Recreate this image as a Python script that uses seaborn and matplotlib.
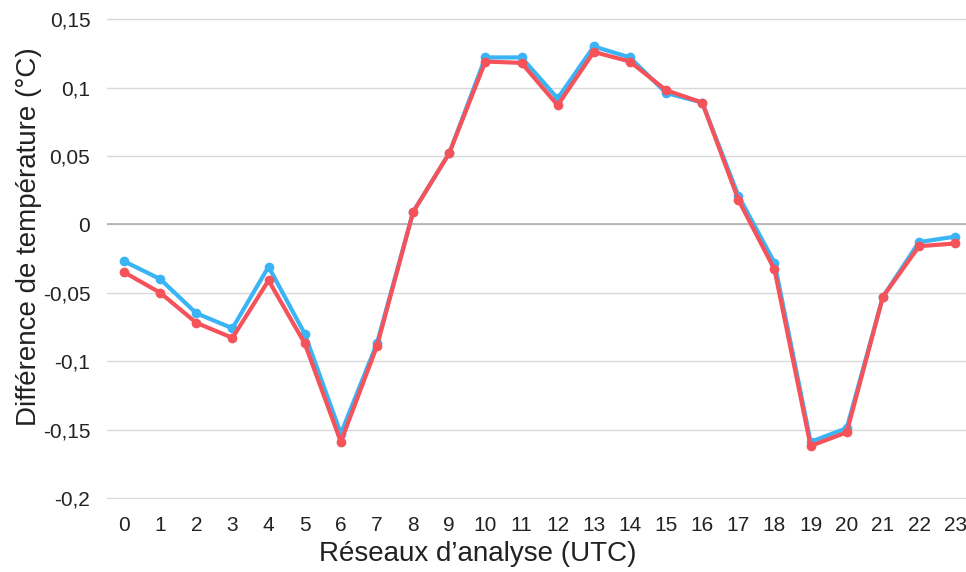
# Library Imports: pandas, numpy, matplotlib, seaborn
import pandas as pd;
import numpy as np;
import matplotlib.pyplot as plt;
import matplotlib.ticker as mticker;
import seaborn as sns;
# ////////////////////////////////////////////////////////////////////////////////////////////////

# ////////////////////////////////////////////////////////////////////////////////////////////////
# Data: temperature difference per analysis network (UTC hour)
heures = list(range(24));
diff_bleu = [-0.027, -0.040, -0.065, -0.076, -0.031, -0.080, -0.153, -0.087, 0.009, 0.052,
             0.122, 0.122, 0.092, 0.130, 0.122, 0.096, 0.089, 0.021, -0.028, -0.159,
             -0.149, -0.053, -0.013, -0.009];
diff_rouge = [-0.035, -0.050, -0.072, -0.083, -0.041, -0.087, -0.159, -0.089, 0.009, 0.052,
              0.119, 0.118, 0.087, 0.126, 0.119, 0.098, 0.089, 0.018, -0.033, -0.162,
              -0.152, -0.053, -0.016, -0.014];
y_ticks = [-0.2, -0.15, -0.1, -0.05, 0, 0.05, 0.1, 0.15];
# ////////////////////////////////////////////////////////////////////////////////////////////////

# ////////////////////////////////////////////////////////////////////////////////////////////////
# Colors and style
color_blue = '#3BB4F6';
color_red = '#F5525A';
color_grid = '#D9D9D9';
color_text = '#222222';

sns.set_style('white');
plt.rcParams['font.family'] = ['Liberation Sans', 'DejaVu Sans'];
# ////////////////////////////////////////////////////////////////////////////////////////////////

# ////////////////////////////////////////////////////////////////////////////////////////////////
# Graphic: two series lines with markers
df = pd.DataFrame({'Heure': heures, 'Bleu': diff_bleu, 'Rouge': diff_rouge});

fig = plt.figure(figsize=(9.66, 5.72), dpi=100);
ax = fig.add_axes([0.1108, 0.1276, 0.8892, 0.8409]);

sns.lineplot(data=df, x='Heure', y='Bleu', color=color_blue, lw=3, marker='o', markersize=7,
             markeredgewidth=0, ax=ax, zorder=3);
sns.lineplot(data=df, x='Heure', y='Rouge', color=color_red, lw=3, marker='o', markersize=7,
             markeredgewidth=0, ax=ax, zorder=4);

ax.set_xlim(-0.47, 23.3);
ax.set_ylim(-0.2008, 0.1508);
ax.set_xticks(heures);
ax.set_yticks(y_ticks);
ax.yaxis.set_major_formatter(mticker.FuncFormatter(lambda v, p: f'{round(v, 3):g}'.replace('.', ',')));

ax.grid(axis='y', color=color_grid, lw=1);
ax.axhline(0, color='#B0B0B0', lw=1.2, zorder=1);
ax.set_axisbelow(True);

ax.tick_params(axis='x', length=0, labelsize=15, colors=color_text, pad=12);
ax.tick_params(axis='y', length=0, labelsize=15, labelcolor=color_text, pad=12);

ax.set_xlabel('Réseaux d’analyse (UTC)', fontsize=20, color=color_text);
ax.set_ylabel('Différence de température (°C)', fontsize=20, color=color_text);
ax.xaxis.set_label_coords(0.432, -0.087);
ax.yaxis.set_label_coords(-0.076, 0.545);

sns.despine(left=True, bottom=True, top=True, right=True);

fig.savefig('out.png', dpi=100);
# ////////////////////////////////////////////////////////////////////////////////////////////////
